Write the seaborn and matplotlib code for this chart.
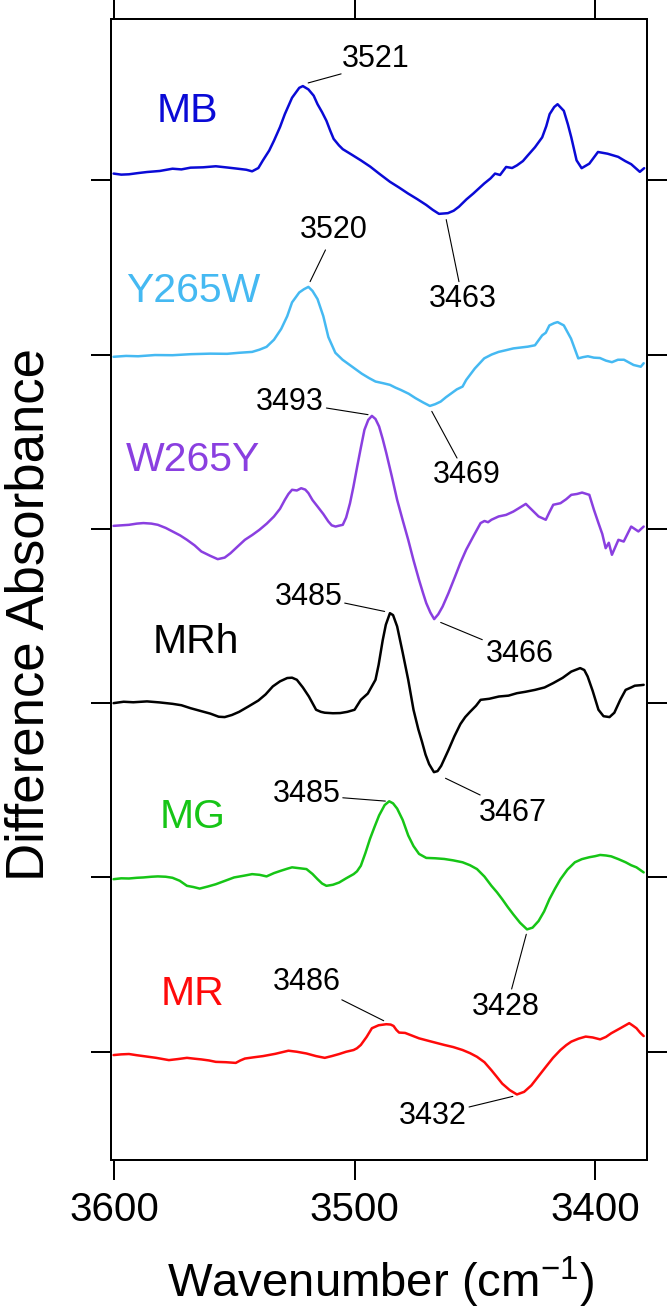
import matplotlib
matplotlib.use("Agg")
import matplotlib.pyplot as plt
import seaborn as sns
import pandas as pd

# ---------------- data (wavenumber, difference absorbance relative to own baseline) ----------------
mb_w = [3600.2, 3597.0, 3593.8, 3590.0, 3586.3, 3581.0, 3575.7, 3572.0, 3568.2, 3563.0, 3557.7, 3553.0,
        3548.6, 3545.0, 3542.6, 3540.0, 3538.1, 3535.5, 3533.5, 3531.0, 3529.0, 3526.0, 3523.0, 3521.5,
        3519.2, 3517.0, 3515.4, 3513.5, 3511.7, 3510.0, 3508.7, 3506.5, 3504.9, 3501.0, 3497.4, 3493.5,
        3489.8, 3485.3, 3481.5, 3477.8, 3474.0, 3470.2, 3467.5, 3464.9, 3461.2, 3458.8, 3456.6, 3453.5,
        3450.6, 3446.1, 3443.5, 3441.6, 3439.5, 3437.0, 3434.5, 3432.5, 3430.0, 3428.0, 3425.0, 3422.0,
        3420.3, 3418.9, 3417.0, 3415.6, 3413.0, 3411.3, 3409.9, 3407.7, 3405.6, 3402.4, 3398.8, 3394.8,
        3390.4, 3387.5, 3385.0, 3381.4, 3379.6]
mb_v = [3.8, 3.2, 3.4, 4.1, 4.7, 5.3, 6.6, 6.2, 7.2, 7.4, 8.0, 7.3,
        6.6, 6.0, 5.1, 7.0, 11.4, 17.0, 22.7, 30.5, 37.9, 47.3, 53.0, 54.0,
        52.1, 48.5, 43.6, 39.0, 34.1, 28.0, 23.7, 20.0, 17.8, 14.5, 11.4, 7.8,
        3.8, -0.9, -4.2, -7.6, -10.8, -14.2, -17.0, -19.3, -18.9, -17.5, -15.2, -11.0,
        -7.6, -1.9, 1.0, 3.8, 3.0, 7.6, 7.0, 8.5, 11.0, 14.2, 18.9, 24.6,
        31.0, 37.9, 42.0, 43.6, 39.8, 32.0, 24.6, 11.4, 6.9, 9.5, 16.2, 15.2,
        13.4, 11.0, 9.2, 4.8, 6.9]

y265w_w = [3600.2, 3595.0, 3590.0, 3583.0, 3575.7, 3568.0, 3560.0, 3553.0, 3548.0, 3542.6, 3539.5, 3536.6,
           3533.5, 3530.5, 3528.0, 3526.0, 3523.0, 3521.0, 3519.2, 3517.5, 3515.4, 3513.0, 3510.9, 3508.0,
           3505.0, 3501.0, 3497.0, 3494.0, 3491.3, 3488.0, 3485.3, 3483.0, 3480.8, 3477.5, 3474.7, 3471.5,
           3468.7, 3466.5, 3464.2, 3462.0, 3459.7, 3457.5, 3455.1, 3453.6, 3450.0, 3446.1, 3443.0, 3440.1,
           3437.0, 3434.0, 3431.0, 3428.0, 3425.0, 3422.0, 3420.5, 3419.0, 3417.0, 3415.6, 3413.0, 3410.0,
           3407.0, 3405.0, 3403.0, 3400.5, 3398.0, 3395.5, 3393.0, 3390.5, 3388.0, 3386.0, 3384.0, 3381.0,
           3379.8]
y265w_v = [-1.3, -0.8, -1.0, -0.3, -0.4, 0.2, 0.5, 0.4, 1.0, 1.5, 2.8, 4.4,
           8.5, 14.7, 22.0, 29.9, 35.6, 37.5, 38.8, 36.5, 31.8, 22.0, 10.0, 1.0,
           -3.0, -7.0, -11.0, -13.5, -15.5, -16.5, -17.4, -19.0, -20.3, -22.5, -25.0, -27.5,
           -29.5, -28.5, -27.0, -24.5, -22.2, -20.0, -18.4, -14.6, -8.0, -2.2, 0.0, 1.5,
           2.5, 3.5, 4.0, 4.5, 5.3, 11.0, 12.5, 16.7, 18.0, 18.6, 16.7, 9.1,
           -2.2, -1.5, -1.0, -1.8, -2.0, -3.5, -4.4, -3.0, -3.0, -4.5, -6.0, -7.0,
           -5.0]

w265y_w = [3600.2, 3597.0, 3593.8, 3590.5, 3587.8, 3584.5, 3581.8, 3578.5, 3575.7, 3572.5, 3569.7, 3566.5,
           3563.7, 3560.0, 3556.9, 3554.0, 3551.6, 3548.5, 3545.6, 3542.5, 3539.6, 3536.5, 3533.5, 3531.0,
           3529.0, 3527.5, 3526.0, 3524.0, 3522.2, 3520.5, 3519.2, 3517.5, 3515.4, 3513.0, 3510.9, 3509.5,
           3507.9, 3506.5, 3504.9, 3503.5, 3501.9, 3500.5, 3498.9, 3497.4, 3495.9, 3494.3, 3492.8, 3491.3,
           3489.8, 3488.3, 3486.8, 3484.5, 3482.3, 3480.0, 3477.7, 3475.5, 3473.2, 3471.5, 3470.2, 3468.5,
           3466.9, 3465.2, 3463.4, 3461.0, 3458.2, 3456.0, 3453.6, 3450.5, 3447.6, 3446.0, 3444.5, 3443.1,
           3440.1, 3437.0, 3434.0, 3431.5, 3428.8, 3426.0, 3423.5, 3420.5, 3419.0, 3417.4, 3414.4, 3412.0,
           3409.9, 3407.5, 3405.4, 3402.4, 3400.5, 3398.6, 3397.0, 3395.6, 3394.3, 3393.0, 3390.3, 3388.1,
           3385.0, 3382.0, 3379.8]
w265y_v = [1.7, 2.0, 2.3, 3.0, 3.3, 3.0, 2.3, 0.5, -1.5, -3.8, -6.3, -9.5,
           -13.0, -15.5, -17.4, -16.5, -14.0, -10.0, -6.3, -3.5, -0.6, 3.0, 7.1, 11.5,
           16.6, 20.0, 22.4, 22.0, 23.3, 22.5, 20.5, 16.5, 12.8, 8.5, 4.2, 2.0,
           1.3, 1.8, 2.3, 6.5, 14.7, 24.0, 35.8, 46.5, 56.8, 62.5, 64.8, 63.0,
           58.7, 51.5, 43.4, 30.0, 16.6, 5.0, -6.3, -18.0, -29.3, -37.0, -42.6, -48.0,
           -51.8, -49.0, -44.6, -37.0, -27.3, -19.5, -12.0, -4.0, 3.3, 4.5, 3.8, 5.2,
           7.1, 8.0, 9.9, 12.0, 14.3, 10.5, 7.1, 5.2, 9.5, 13.8, 14.7, 17.0,
           19.5, 20.0, 20.8, 19.5, 11.0, 3.3, -3.0, -11.1, -8.0, -14.9, -6.3, -7.3,
           1.3, -1.5, 1.3]

mrh_w = [3600.2, 3596.0, 3592.0, 3586.3, 3581.0, 3575.7, 3572.0, 3568.2, 3564.0, 3560.0, 3556.5, 3554.0,
         3551.0, 3548.0, 3544.0, 3540.0, 3537.0, 3534.0, 3531.0, 3528.0, 3526.0, 3524.0, 3521.5, 3519.0,
         3516.0, 3514.0, 3512.4, 3509.0, 3506.0, 3503.0, 3500.0, 3497.4, 3494.5, 3491.3, 3490.0, 3488.3,
         3487.0, 3485.3, 3484.0, 3482.3, 3480.0, 3477.7, 3475.5, 3473.5, 3472.0, 3470.5, 3469.0, 3467.0,
         3465.5, 3464.0, 3461.0, 3458.5, 3456.0, 3454.0, 3452.0, 3449.5, 3447.6, 3444.0, 3440.0, 3436.0,
         3432.5, 3429.0, 3425.0, 3421.0, 3417.4, 3413.5, 3409.9, 3406.2, 3404.5, 3403.1, 3401.0, 3398.6,
         3396.5, 3394.0, 3392.0, 3389.5, 3387.3, 3385.0, 3383.5, 3381.0, 3379.8]
mrh_v = [0.0, 0.8, 0.5, 1.0, 0.4, -0.4, -1.2, -2.9, -4.5, -6.0, -7.8, -8.0,
         -6.8, -5.0, -1.8, 1.5, 5.0, 9.6, 12.5, 14.4, 14.6, 13.4, 9.0, 3.8,
         -3.8, -5.0, -5.5, -5.8, -5.7, -5.0, -3.8, 1.9, 5.5, 13.4, 22.0, 36.1,
         45.0, 51.6, 50.5, 44.0, 29.0, 13.4, -3.8, -15.0, -22.0, -29.5, -35.0, -39.6,
         -39.0, -36.0, -27.0, -19.0, -12.0, -8.0, -5.0, -1.5, 1.9, 2.5, 3.8, 4.3,
         5.7, 6.5, 7.6, 9.0, 11.5, 14.5, 18.1, 20.1, 19.0, 15.3, 7.0, -3.8,
         -7.5, -8.0, -5.5, 2.0, 7.6, 9.0, 10.0, 10.3, 10.5]

mg_w = [3600.2, 3597.0, 3593.8, 3590.5, 3587.8, 3584.5, 3581.8, 3578.5, 3575.7, 3572.7, 3569.7, 3567.0,
        3564.4, 3561.0, 3557.7, 3554.0, 3550.1, 3546.0, 3542.6, 3539.5, 3536.6, 3533.5, 3530.5, 3528.0,
        3526.0, 3523.0, 3520.0, 3517.5, 3515.4, 3513.5, 3511.7, 3509.0, 3506.4, 3503.5, 3500.4, 3499.0,
        3497.4, 3495.5, 3493.6, 3491.7, 3489.8, 3487.5, 3485.6, 3484.0, 3482.3, 3480.0, 3477.7, 3475.5,
        3473.2, 3470.2, 3466.5, 3462.7, 3459.0, 3455.1, 3452.0, 3449.1, 3446.0, 3443.1, 3440.8, 3438.6,
        3436.3, 3434.0, 3431.2, 3428.3, 3426.0, 3423.5, 3421.2, 3419.0, 3416.7, 3414.4, 3411.5, 3408.4,
        3405.5, 3402.4, 3400.0, 3397.9, 3395.5, 3393.3, 3390.3, 3387.3, 3385.0, 3382.8, 3379.8]
mg_v = [-1.0, -0.5, -0.6, -0.2, 0.0, 0.4, 0.6, 0.4, -0.2, -1.9, -4.8, -5.5,
        -6.4, -5.2, -3.9, -2.0, 0.0, 1.0, 1.9, 1.5, 0.6, 2.5, 3.9, 5.0,
        5.8, 5.3, 4.8, 2.0, -1.0, -3.5, -4.8, -4.2, -2.9, -0.5, 1.9, 3.5,
        6.7, 14.0, 22.1, 29.0, 35.6, 41.5, 43.7, 42.5, 39.5, 33.0, 24.1, 18.0,
        13.5, 11.2, 11.0, 10.6, 9.8, 8.7, 7.0, 4.8, 0.5, -4.8, -8.5, -12.5,
        -17.0, -21.2, -26.0, -29.8, -28.8, -25.0, -19.5, -12.5, -6.5, -1.0, 4.5, 8.7,
        10.5, 11.6, 12.2, 12.9, 12.6, 12.1, 10.5, 8.7, 7.0, 5.8, 2.9]

mr_w = [3600.2, 3597.0, 3593.8, 3590.5, 3587.8, 3582.5, 3577.2, 3573.5, 3569.7, 3566.5, 3563.7, 3560.5,
        3557.7, 3553.5, 3549.4, 3547.5, 3545.6, 3542.0, 3538.1, 3533.0, 3527.5, 3524.0, 3520.0, 3516.0,
        3512.4, 3509.5, 3506.4, 3503.5, 3500.4, 3499.0, 3497.4, 3495.0, 3492.8, 3490.0, 3486.8, 3485.0,
        3483.8, 3482.6, 3481.5, 3479.0, 3476.0, 3473.2, 3468.0, 3462.7, 3459.0, 3455.1, 3452.0, 3449.1,
        3446.0, 3443.1, 3440.8, 3438.6, 3435.5, 3432.5, 3429.5, 3426.5, 3423.5, 3420.5, 3417.5, 3414.4,
        3412.0, 3409.9, 3406.9, 3403.9, 3401.0, 3397.9, 3395.5, 3393.3, 3389.5, 3385.8, 3384.3, 3382.8,
        3381.3, 3379.8]
mr_v = [-1.9, -1.5, -1.3, -2.0, -2.5, -3.5, -4.8, -4.2, -3.5, -4.0, -4.4, -5.0,
        -5.8, -6.0, -6.4, -5.0, -3.9, -3.2, -2.5, -1.2, 0.6, 0.0, -1.0, -2.5,
        -3.5, -2.5, -1.3, 0.0, 1.0, 2.0, 3.9, 8.5, 13.5, 15.2, 15.8, 15.6,
        14.8, 12.5, 11.0, 10.8, 9.2, 7.7, 5.8, 3.9, 2.7, 1.0, -0.8, -2.9,
        -6.0, -10.6, -14.5, -18.3, -22.0, -24.5, -23.0, -19.3, -14.0, -8.7, -3.5, 1.0,
        3.8, 5.8, 7.5, 8.7, 8.2, 7.1, 8.5, 10.6, 13.5, 16.4, 15.0, 13.5,
        11.0, 9.0]

names = ["MB", "Y265W", "W265Y", "MRh", "MG", "MR"]
colors = ["#0a0ad6", "#45b9f2", "#8a3fe0", "#000000", "#16c516", "#ff0a0a"]
offsets = [500, 400, 300, 200, 100, 0]
series_w = [mb_w, y265w_w, w265y_w, mrh_w, mg_w, mr_w]
series_v = [mb_v, y265w_v, w265y_v, mrh_v, mg_v, mr_v]

# series name label positions (wavenumber, y)
name_pos = [(3569.6, 539.7), (3567.2, 436.7), (3567.2, 339.2), (3565.9, 235.1), (3567.4, 134.7), (3567.4, 33.3)]

# peak annotations: text, text position, leader line start, leader line end
peak_text = ["3521", "3463", "3520", "3469", "3493", "3466", "3485", "3467", "3485", "3428", "3486", "3432"]
peak_text_pos = [(3491.4, 569.5), (3455.1, 431.6), (3508.7, 471.4), (3453.2, 330.6), (3526.8, 372.8),
                 (3431.3, 228.3), (3519.2, 260.9), (3434.2, 136.7), (3519.8, 147.8), (3437.3, 25.9),
                 (3519.8, 40.0), (3467.6, -37.0)]
leader_a = [(3519.3, 555.8), (3461.9, 477.4), (3518.5, 441.8), (3467.9, 367.4), (3511.7, 369.3),
            (3464.2, 246.3), (3504.1, 257.4), (3462.2, 156.9), (3504.9, 145.7), (3428.6, 67.4),
            (3505.3, 29.8), (3452.4, -31.7)]
leader_b = [(3505.6, 561.0), (3456.6, 441.8), (3512.1, 460.0), (3457.4, 340.6), (3494.4, 365.5),
            (3446.9, 236.4), (3487.5, 252.6), (3447.8, 147.3), (3487.2, 143.8), (3434.7, 36.0),
            (3487.9, 17.8), (3434.2, -25.6)]

x_ticks = [3600, 3500, 3400]
y_ticks = [0, 100, 200, 300, 400, 500]

# ---------------- plotting ----------------
sns.set_style("ticks")
plt.rcParams["font.family"] = ["Liberation Sans", "DejaVu Sans"]
plt.rcParams["mathtext.fontset"] = "custom"
plt.rcParams["mathtext.rm"] = "Liberation Sans"
plt.rcParams["mathtext.it"] = "Liberation Sans"
plt.rcParams["text.color"] = "black"
plt.rcParams["axes.labelcolor"] = "black"
plt.rcParams["xtick.color"] = "black"
plt.rcParams["ytick.color"] = "black"

fig = plt.figure(figsize=(6.68, 13.13), dpi=100)
ax = fig.add_axes([0.1657, 0.11653, 0.80329, 0.86862])

frames = []
for n, w, v, off in zip(names, series_w, series_v, offsets):
    frames.append(pd.DataFrame({"wavenumber": w, "absorbance": [val + off for val in v], "sample": n}))
df = pd.concat(frames, ignore_index=True)

for n, c in zip(names, colors):
    sub = df[df["sample"] == n]
    sns.lineplot(data=sub, x="wavenumber", y="absorbance", color=c, linewidth=1.8,
                 sort=False, estimator=None, ax=ax, legend=False)

for n, c, (px, py) in zip(names, colors, name_pos):
    ax.text(px, py, n, color=c, fontsize=29.5, ha="center", va="center")

for t, (tx, ty), (ax1, ay1), (bx, by) in zip(peak_text, peak_text_pos, leader_a, leader_b):
    ax.text(tx, ty, t, color="black", fontsize=22, ha="center", va="center")
    ax.plot([ax1, bx], [ay1, by], color="black", linewidth=0.8)

ax.set_xlim(3601.4, 3378.3)
ax.set_ylim(-62.1, 592.2)
ax.set_xticks(x_ticks)
ax.set_xticklabels([str(t) for t in x_ticks])
ax.set_yticks(y_ticks)
ax.tick_params(axis="both", direction="out", length=14.4, width=1.44, top=True, right=True,
               labeltop=False, labelright=False, labelleft=False, labelsize=29, pad=8,
               color="black", labelcolor="black")
for s in ax.spines.values():
    s.set_linewidth(1.44)
    s.set_color("black")
    s.set_visible(True)

ax.set_xlabel("Wavenumber (cm$^{-1}$)", fontsize=34, color="black")
ax.set_ylabel("Difference Absorbance", fontsize=38, color="black")
ax.yaxis.set_label_coords(-0.105, 0.478)
ax.xaxis.set_label_coords(0.502, -0.083)

fig.savefig("out.png", dpi=100)
